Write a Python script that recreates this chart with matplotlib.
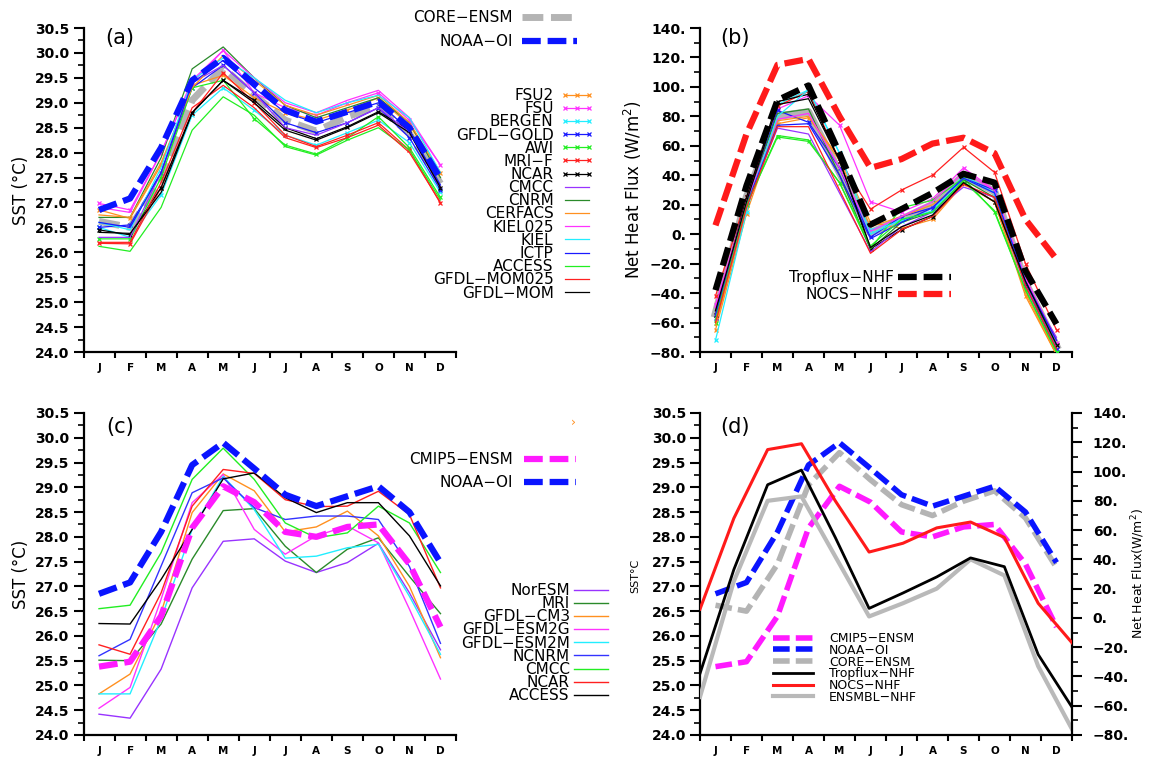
import numpy as np
import matplotlib
matplotlib.use("Agg")
import matplotlib.pyplot as plt
from matplotlib.ticker import MultipleLocator

plt.rcParams["font.family"] = ["DejaVu Sans"]

W, H = 1155, 758
months = ["J", "F", "M", "A", "M", "J", "J", "A", "S", "O", "N", "D"]
mon = np.arange(1, 13)

# ---- observations and ensemble means ----
noaa_oi = [26.85, 27.08, 28.1, 29.45, 29.9, 29.38, 28.85, 28.62, 28.82, 29.02, 28.5, 27.48]
core_ensm = [26.62, 26.5, 27.45, 29.05, 29.7, 29.15, 28.65, 28.43, 28.72, 28.93, 28.38, 27.38]
cmip5_ensm = [25.38, 25.48, 26.4, 28.18, 29.02, 28.7, 28.1, 28.0, 28.2, 28.25, 27.45, 26.18]
tropflux_nhf = [-38, 33, 91, 101, 55, 6.5, 17, 28, 41, 35, -25, -61]
nocs_nhf = [6, 68, 115, 119, 80, 45, 51, 61.5, 65.5, 55, 10, -17]
ensmbl_nhf = [-54, 25, 80, 83, 42, 1, 10, 20, 40, 29, -33, -76]

# ---- CORE-II models ----
core_names = ["FSU2", "FSU", "BERGEN", "GFDL\u2212GOLD", "AWI", "MRI\u2212F", "NCAR",
              "CMCC", "CNRM", "CERFACS", "KIEL025", "KIEL", "ICTP", "ACCESS",
              "GFDL\u2212MOM025", "GFDL\u2212MOM"]
core_colors = ["#ff9020", "#ff33ff", "#22eeff", "#1a1aff", "#22ee22", "#ff2020", "#000000",
               "#9933ff", "#2a8a2a", "#ff9020", "#ff33ff", "#22eeff", "#1a1aff", "#22ee22",
               "#ff2020", "#000000"]
core_markers = ["x"] * 7 + [None] * 9

sst_fsu2 = [26.85, 26.68, 27.75, 29.35, 29.55, 29.1, 28.8, 28.65, 28.85, 29.1, 28.55, 27.6]
sst_fsu = [26.98, 26.85, 28.0, 29.4, 30.05, 29.2, 28.9, 28.75, 29.0, 29.2, 28.65, 27.75]
sst_bergen = [26.5, 26.3, 27.15, 28.75, 29.3, 28.85, 28.35, 28.15, 28.4, 28.65, 28.2, 27.2]
sst_gfdl_gold = [26.5, 26.55, 27.6, 29.3, 29.75, 29.2, 28.6, 28.4, 28.6, 28.9, 28.3, 27.25]
sst_awi = [26.27, 26.27, 27.5, 29.3, 29.45, 28.68, 28.15, 27.97, 28.3, 28.72, 28.1, 27.1]
sst_mri_f = [26.18, 26.17, 27.3, 28.8, 29.6, 29.0, 28.35, 28.12, 28.35, 28.6, 28.05, 26.98]
sst_ncar = [26.45, 26.35, 27.3, 28.8, 29.45, 29.05, 28.5, 28.28, 28.52, 28.82, 28.45, 27.3]
sst_cmcc = [26.3, 26.3, 27.6, 29.4, 29.75, 29.2, 28.5, 28.35, 28.6, 28.9, 28.4, 27.3]
sst_cnrm = [26.7, 26.7, 27.9, 29.68, 30.12, 29.5, 28.95, 28.7, 28.9, 29.1, 28.6, 27.5]
sst_cerfacs = [26.75, 26.7, 27.8, 29.3, 29.95, 29.45, 28.95, 28.75, 28.95, 29.15, 28.6, 27.6]
sst_kiel025 = [26.9, 26.8, 28.0, 29.45, 30.05, 29.5, 29.0, 28.8, 29.05, 29.25, 28.7, 27.75]
sst_kiel = [26.6, 26.45, 27.7, 29.45, 29.9, 29.5, 29.05, 28.8, 29.0, 29.15, 28.7, 27.6]
sst_ictp = [26.6, 26.5, 27.6, 29.4, 29.85, 29.3, 28.8, 28.6, 28.8, 29.0, 28.45, 27.35]
sst_access = [26.12, 26.02, 26.9, 28.45, 29.12, 28.75, 28.12, 27.95, 28.25, 28.5, 28.05, 27.05]
sst_gfdl_mom025 = [26.2, 26.2, 27.4, 28.9, 29.35, 28.9, 28.3, 28.1, 28.3, 28.55, 28.0, 27.0]
sst_gfdl_mom = [26.4, 26.38, 27.2, 28.8, 29.45, 29.0, 28.45, 28.25, 28.5, 28.8, 28.4, 27.3]

nhf_fsu2 = [-65, 14, 75, 79, 52, 8, 4, 10, 34, 22, -42, -82]
nhf_fsu = [-48, 22, 85, 94, 74, 22, 15, 24, 45, 30, -30, -74]
nhf_bergen = [-72, 15, 88, 98, 55, 3, 9, 16, 40, 28, -35, -80]
nhf_gfdl_gold = [-57, 22, 84, 76, 45, -2, 12, 18, 38, 30, -35, -78]
nhf_awi = [-60, 20, 66, 63, 35, -10, 18, 23, 38, 15, -38, -80]
nhf_mri_f = [-42, 25, 87, 97, 50, 17, 30, 40, 59, 42, -20, -65]
nhf_ncar = [-55, 25, 90, 95, 50, -10, 3, 12, 35, 22, -33, -75]
nhf_cmcc = [-55, 20, 72, 68, 28, -12, 5, 15, 32, 25, -35, -70]
nhf_cnrm = [-52, 22, 82, 85, 40, -10, 8, 15, 37, 25, -32, -72]
nhf_cerfacs = [-62, 18, 77, 80, 50, 5, 12, 20, 35, 22, -40, -82]
nhf_kiel025 = [-50, 22, 78, 82, 45, 2, 12, 22, 42, 30, -30, -72]
nhf_kiel = [-58, 18, 80, 98, 55, 0, 10, 15, 38, 28, -32, -75]
nhf_ictp = [-55, 20, 74, 75, 40, -3, 8, 18, 38, 28, -32, -72]
nhf_access = [-58, 20, 67, 64, 35, -8, 10, 15, 36, 16, -38, -80]
nhf_gfdl_mom025 = [-60, 18, 73, 73, 30, -13, 3, 12, 34, 25, -35, -78]
nhf_gfdl_mom = [-52, 22, 88, 92, 50, -9, 5, 13, 35, 22, -32, -75]

core_sst = [sst_fsu2, sst_fsu, sst_bergen, sst_gfdl_gold, sst_awi, sst_mri_f, sst_ncar,
            sst_cmcc, sst_cnrm, sst_cerfacs, sst_kiel025, sst_kiel, sst_ictp, sst_access,
            sst_gfdl_mom025, sst_gfdl_mom]
core_nhf = [nhf_fsu2, nhf_fsu, nhf_bergen, nhf_gfdl_gold, nhf_awi, nhf_mri_f, nhf_ncar,
            nhf_cmcc, nhf_cnrm, nhf_cerfacs, nhf_kiel025, nhf_kiel, nhf_ictp, nhf_access,
            nhf_gfdl_mom025, nhf_gfdl_mom]

# ---- CMIP5 models ----
cmip_names = ["NorESM", "MRI", "GFDL\u2212CM3", "GFDL\u2212ESM2G", "GFDL\u2212ESM2M",
              "NCNRM", "CMCC", "NCAR", "ACCESS"]
cmip_colors = ["#9933ff", "#2a8a2a", "#ff9020", "#ff33ff", "#22eeff", "#3333ff",
               "#22ee22", "#ff2020", "#000000"]
cm_noresm = [24.42, 24.34, 25.33, 26.97, 27.91, 27.96, 27.51, 27.28, 27.48, 27.87, 26.87, 25.72]
cm_mri = [25.51, 25.5, 26.24, 27.55, 28.53, 28.57, 27.81, 27.28, 27.75, 27.98, 27.2, 26.45]
cm_gfdl_cm3 = [24.83, 25.23, 26.47, 28.49, 29.27, 28.93, 28.1, 28.2, 28.52, 28.02, 27.0, 25.56]
cm_gfdl_esm2g = [24.54, 24.96, 26.74, 28.69, 29.26, 28.15, 27.65, 28.02, 28.22, 27.88, 26.54, 25.13]
cm_gfdl_esm2m = [24.83, 24.83, 26.34, 28.15, 29.22, 28.55, 27.57, 27.61, 27.78, 27.85, 26.8, 25.63]
cm_ncnrm = [25.6, 25.93, 27.41, 28.89, 29.19, 28.59, 28.35, 28.42, 28.42, 28.35, 27.4, 25.85]
cm_cmcc = [26.55, 26.62, 27.68, 29.16, 29.79, 29.16, 28.28, 27.98, 28.08, 28.62, 28.28, 27.28]
cm_ncar = [25.82, 25.63, 26.87, 28.62, 29.36, 29.28, 28.75, 28.61, 28.62, 28.92, 28.45, 26.97]
cm_access = [26.25, 26.24, 27.14, 28.15, 29.17, 29.29, 28.79, 28.49, 28.69, 28.69, 28.02, 27.01]
cmip_sst = [cm_noresm, cm_mri, cm_gfdl_cm3, cm_gfdl_esm2g, cm_gfdl_esm2m, cm_ncnrm,
            cm_cmcc, cm_ncar, cm_access]

sst_ticks = np.arange(24.0, 30.51, 0.5)
nhf_ticks = np.arange(-80, 141, 20)
DASH = (0, (3.0, 1.1))

fig = plt.figure(figsize=(W / 100, H / 100), dpi=100)


def rect(x0, x1, y0, y1):
    return [x0 / W, 1 - y1 / H, (x1 - x0) / W, (y1 - y0) / H]


def style_x(ax):
    ax.set_xlim(0.5, 12.5)
    ax.set_xticks(mon, months, fontsize=7.5, fontweight="bold")
    ax.set_xticks(np.arange(0.5, 13, 1), minor=True)
    ax.tick_params(axis="x", which="major", length=0, pad=8)
    ax.tick_params(axis="x", which="minor", length=4, width=1.5, direction="out")


def style_y(ax, kind):
    if kind == "sst":
        ax.set_ylim(24.0, 30.5)
        ax.set_yticks(sst_ticks, [f"{v:.1f}" for v in sst_ticks], fontsize=10, fontweight="bold")
        ax.yaxis.set_minor_locator(MultipleLocator(0.25))
    else:
        ax.set_ylim(-80, 140)
        ax.set_yticks(nhf_ticks, [f"{v:.0f}.".replace("-", "\u2212") for v in nhf_ticks],
                      fontsize=10, fontweight="bold")
        ax.yaxis.set_minor_locator(MultipleLocator(10))
    ax.tick_params(axis="y", which="major", length=7, width=1.5, direction="out", pad=3)
    ax.tick_params(axis="y", which="minor", length=4, width=1.2, direction="out")


def spines(ax, keep):
    for s in ["left", "right", "top", "bottom"]:
        ax.spines[s].set_visible(s in keep)
        ax.spines[s].set_linewidth(1.6)


# ================= (a) =================
ax_a = fig.add_axes(rect(83.5, 456, 28, 352))
style_x(ax_a)
style_y(ax_a, "sst")
spines(ax_a, ["left", "bottom"])
h_core, = ax_a.plot(mon, core_ensm, color="#b4b4b4", lw=5, ls=DASH, zorder=2)
model_handles = []
for vals, c, mk in zip(core_sst, core_colors, core_markers):
    h, = ax_a.plot(mon, vals, color=c, lw=0.9, marker=mk, ms=3.5, mew=0.9, zorder=3)
    model_handles.append(h)
h_noaa, = ax_a.plot(mon, noaa_oi, color="#0a14ff", lw=4.5, ls=DASH, zorder=4)
ax_a.text(0.098, 0.968, "(a)", transform=ax_a.transAxes, fontsize=15, ha="center", va="center")

fig.legend([h_core, h_noaa], ["CORE\u2212ENSM", "NOAA\u2212OI"], loc="upper right",
           bbox_to_anchor=(577 / W, 1 - 10 / H), frameon=False, markerfirst=False,
           fontsize=11, handlelength=3.6, handletextpad=0.6, labelspacing=0.6,
           borderpad=0, borderaxespad=0)
fig.legend(model_handles, core_names, loc="upper right", bbox_to_anchor=(594 / W, 1 - 88 / H),
           frameon=False, markerfirst=False, numpoints=3, fontsize=11, handlelength=2.2,
           handletextpad=0.45, labelspacing=-0.12, borderpad=0, borderaxespad=0)
fig.text(21 / W, 1 - 190 / H, "SST (\u00b0C)", rotation=90, ha="center", va="center", fontsize=12)

# ================= (b) =================
ax_b = fig.add_axes(rect(700, 1072, 28, 352))
style_x(ax_b)
style_y(ax_b, "nhf")
spines(ax_b, ["left", "bottom"])
ax_b.plot(mon, ensmbl_nhf, color="#b4b4b4", lw=5.5, zorder=2)
for vals, c, mk in zip(core_nhf, core_colors, core_markers):
    ax_b.plot(mon, vals, color=c, lw=0.9, marker=mk, ms=3.5, mew=0.9, zorder=3)
h_trop, = ax_b.plot(mon, tropflux_nhf, color="#000000", lw=4.5, ls=DASH, zorder=4)
h_nocs, = ax_b.plot(mon, nocs_nhf, color="#ff1a1a", lw=4.5, ls=DASH, zorder=4)
ax_b.text(0.094, 0.968, "(b)", transform=ax_b.transAxes, fontsize=15, ha="center", va="center")
fig.legend([h_trop, h_nocs], ["Tropflux\u2212NHF", "NOCS\u2212NHF"], loc="upper right",
           bbox_to_anchor=(951 / W, 1 - 270 / H), frameon=False, markerfirst=False,
           fontsize=11, handlelength=3.5, handletextpad=0.25, labelspacing=0.14,
           borderpad=0, borderaxespad=0)
fig.text(633 / W, 1 - 190 / H, "Net Heat Flux (W/m$^2$)", rotation=90, ha="center",
         va="center", fontsize=12)

# ================= (c) =================
ax_c = fig.add_axes(rect(83.5, 456, 413, 735))
style_x(ax_c)
style_y(ax_c, "sst")
spines(ax_c, ["left", "bottom"])
cmip_handles = []
for vals, c in zip(cmip_sst, cmip_colors):
    h, = ax_c.plot(mon, vals, color=c, lw=1.0, zorder=3)
    cmip_handles.append(h)
h_cmip, = ax_c.plot(mon, cmip5_ensm, color="#ff1aff", lw=4.5, ls=DASH, zorder=4)
h_noaa_c, = ax_c.plot(mon, noaa_oi, color="#0a14ff", lw=4.5, ls=DASH, zorder=5)
ax_c.text(0.098, 0.955, "(c)", transform=ax_c.transAxes, fontsize=15, ha="center", va="center")
fig.legend([h_cmip, h_noaa_c], ["CMIP5\u2212ENSM", "NOAA\u2212OI"], loc="upper right",
           bbox_to_anchor=(576 / W, 1 - 452 / H), frameon=False, markerfirst=False,
           fontsize=11, handlelength=3.4, handletextpad=0.75, labelspacing=0.55,
           borderpad=0, borderaxespad=0)
fig.legend(cmip_handles, cmip_names, loc="upper right", bbox_to_anchor=(608 / W, 1 - 583 / H),
           frameon=False, markerfirst=False, fontsize=11, handlelength=2.2,
           handletextpad=0.3, labelspacing=-0.12, borderpad=0, borderaxespad=0)
fig.text(573 / W, 1 - 422 / H, "\u203a", color="#ff9020", fontsize=9, ha="center", va="center")
fig.text(21 / W, 1 - 574 / H, "SST (\u00b0C)", rotation=90, ha="center", va="center", fontsize=12)

# ================= (d) =================
ax_d = fig.add_axes(rect(700, 1072, 413, 735))
style_x(ax_d)
style_y(ax_d, "sst")
spines(ax_d, ["left", "bottom"])
d_cmip, = ax_d.plot(mon, cmip5_ensm, color="#ff1aff", lw=4, ls=DASH, zorder=3)
d_noaa, = ax_d.plot(mon, noaa_oi, color="#0a14ff", lw=4, ls=DASH, zorder=3)
d_core, = ax_d.plot(mon, core_ensm, color="#b4b4b4", lw=4, ls=DASH, zorder=2)
ax_d.text(0.094, 0.955, "(d)", transform=ax_d.transAxes, fontsize=15, ha="center", va="center")

# heat-flux series share the panel on their own scale, spread over the full width
ax_n = fig.add_axes(rect(700, 1072, 413, 735))
ax_n.patch.set_visible(False)
ax_n.set_xlim(1, 12)
ax_n.xaxis.set_visible(False)
ax_n.yaxis.tick_right()
style_y(ax_n, "nhf")
spines(ax_n, ["right"])
d_ens, = ax_n.plot(mon, ensmbl_nhf, color="#b9b9b9", lw=3, zorder=2)
d_trop, = ax_n.plot(mon, tropflux_nhf, color="#000000", lw=2, zorder=3)
d_nocs, = ax_n.plot(mon, nocs_nhf, color="#ff1a1a", lw=2.2, zorder=3)
ax_n.tick_params(axis="y", which="major", pad=8)

fig.legend([d_cmip, d_noaa, d_core, d_trop, d_nocs, d_ens],
           ["CMIP5\u2212ENSM", "NOAA\u2212OI", "CORE\u2212ENSM", "Tropflux\u2212NHF",
            "NOCS\u2212NHF", "ENSMBL\u2212NHF"],
           loc="upper left", bbox_to_anchor=(773 / W, 1 - 632 / H), frameon=False,
           fontsize=9, handlelength=3.2, handletextpad=1.3, labelspacing=-0.1,
           borderpad=0, borderaxespad=0)
fig.text(635 / W, 1 - 576 / H, "SST\u00b0C", rotation=90, ha="center", va="center", fontsize=8)
fig.text(1138 / W, 1 - 574 / H, "Net Heat Flux(W/m$^2$)", rotation=90, ha="center",
         va="center", fontsize=9)

fig.savefig("out.png", dpi=100)
